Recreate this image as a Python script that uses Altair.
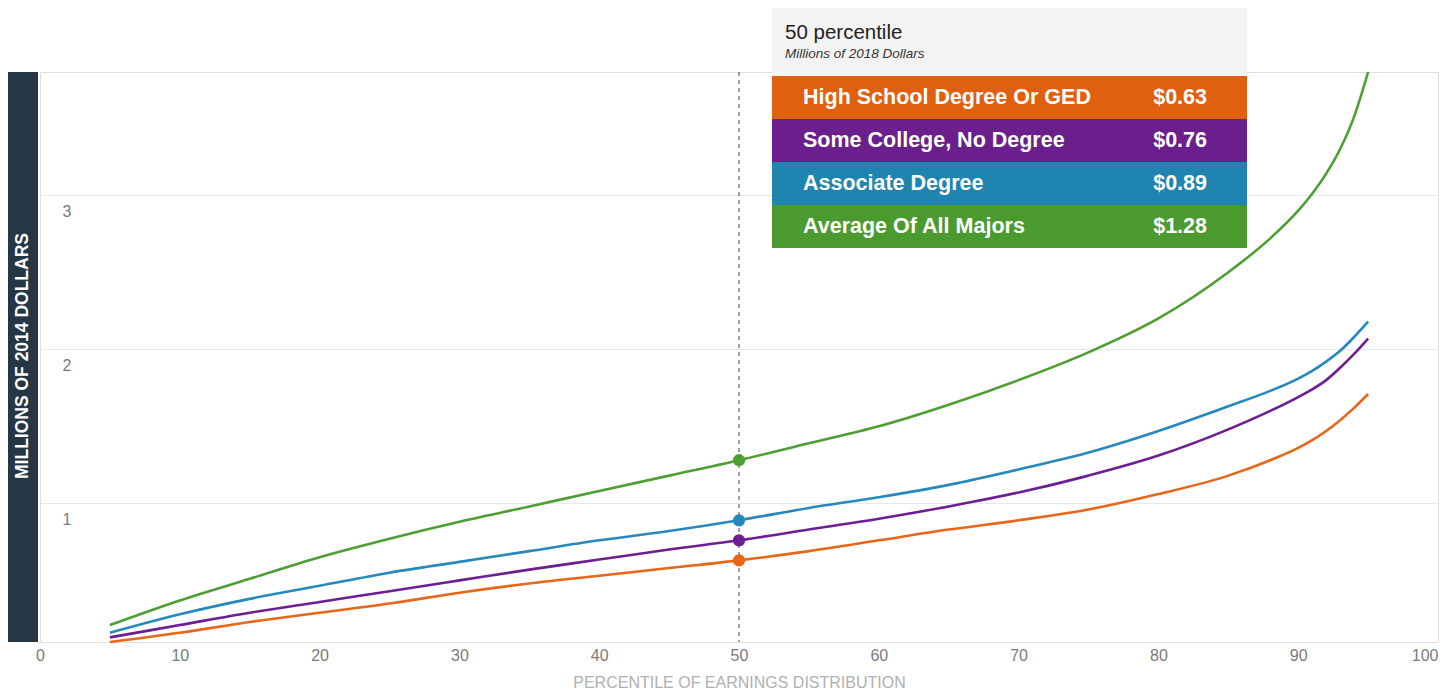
import altair as alt
import pandas as pd

# ---- data ----
percentiles = [5, 10, 15, 20, 25, 30, 35, 40, 45, 50, 55, 60, 65, 70, 75, 80, 85, 88, 90, 91, 92, 93, 94, 95]
high_school = [0.10, 0.16, 0.23, 0.29, 0.35, 0.42, 0.48, 0.53, 0.58, 0.63, 0.69, 0.76, 0.83, 0.89, 0.96, 1.06, 1.18, 1.28, 1.36, 1.41, 1.47, 1.54, 1.62, 1.71]
some_college = [0.13, 0.21, 0.29, 0.36, 0.43, 0.50, 0.57, 0.635, 0.70, 0.76, 0.83, 0.90, 0.98, 1.07, 1.18, 1.31, 1.48, 1.60, 1.69, 1.74, 1.80, 1.88, 1.97, 2.07]
associate = [0.16, 0.28, 0.38, 0.465, 0.55, 0.62, 0.69, 0.76, 0.82, 0.89, 0.97, 1.04, 1.12, 1.22, 1.33, 1.47, 1.63, 1.73, 1.81, 1.86, 1.92, 1.99, 2.08, 2.18]
all_majors = [0.21, 0.37, 0.51, 0.65, 0.77, 0.88, 0.98, 1.08, 1.18, 1.28, 1.39, 1.50, 1.64, 1.80, 1.98, 2.20, 2.50, 2.72, 2.90, 3.01, 3.14, 3.30, 3.51, 3.80]

series_names = ["High School Degree Or GED", "Some College, No Degree", "Associate Degree", "Average Of All Majors"]
line_colors = ["#E8661A", "#6C1E92", "#2688BC", "#4E9E33"]
box_colors = ["#E0600F", "#6A1F8C", "#1F84B0", "#4B9A30"]

highlight_percentile = 50
highlight_values = [0.63, 0.76, 0.89, 1.28]
highlight_labels = ["$0.63", "$0.76", "$0.89", "$1.28"]

x_ticks = [0, 10, 20, 30, 40, 50, 60, 70, 80, 90, 100]
y_ticks = [1, 2, 3]
y_title = "MILLIONS OF 2014 DOLLARS"
x_title = "PERCENTILE OF EARNINGS DISTRIBUTION"
tip_title = "50 percentile"
tip_subtitle = "Millions of 2018 Dollars"

# ---- tables ----
rows = []
for name, vals in zip(series_names, [high_school, some_college, associate, all_majors]):
    for p, v in zip(percentiles, vals):
        rows.append({"series": name, "percentile": p, "value": v})
lines_df = pd.DataFrame(rows)
dots_df = pd.DataFrame({"series": series_names, "percentile": [highlight_percentile] * 4, "value": highlight_values})

W, H = 1398, 570
ROW_H = 43
BOX_X0, BOX_X1 = 732, 1207
tip_df = pd.DataFrame({
    "series": series_names,
    "label": highlight_labels,
    "color": box_colors,
    "i": list(range(4)),
})

x_scale = alt.Scale(domain=[0, 100], nice=False, zero=False)
y_scale = alt.Scale(domain=[0.1, 3.8], nice=False, zero=False)
color_scale = alt.Scale(domain=series_names, range=line_colors)

x_enc = alt.X("percentile:Q", scale=x_scale, axis=alt.Axis(
    values=x_ticks, title=x_title, grid=False, ticks=False, domain=False,
    labelColor="#7a7a7a", labelFontSize=16, labelPadding=5,
    labelAlign=alt.ExprRef("datum.value == 100 ? 'right' : 'center'"),
    titleColor="#b0b0b0", titleFontSize=16, titleFontWeight="normal", titlePadding=11))
y_enc = alt.Y("value:Q", scale=y_scale, axis=alt.Axis(
    values=y_ticks, title=None, grid=True, gridColor="#e8e8e8", ticks=False, domain=False,
    format="d",
    labelAlign="left", labelPadding=-22, labelBaseline="middle", labelOffset=16,
    labelColor="#7a7a7a", labelFontSize=16))

lines = alt.Chart(lines_df).mark_line(interpolate="monotone", strokeWidth=2.6).encode(
    x=x_enc, y=y_enc,
    color=alt.Color("series:N", scale=color_scale, legend=None),
    detail="series:N",
)

rule = alt.Chart(pd.DataFrame({"percentile": [highlight_percentile]})).mark_rule(
    color="#6f6f6f", strokeDash=[4, 4], strokeWidth=1.3).encode(x=alt.X("percentile:Q", scale=x_scale))

dots = alt.Chart(dots_df).mark_circle(size=150, opacity=1).encode(
    x=alt.X("percentile:Q", scale=x_scale),
    y=alt.Y("value:Q", scale=y_scale),
    color=alt.Color("series:N", scale=color_scale, legend=None),
)

# dark y-title bar
ybar = alt.Chart(pd.DataFrame({"t": [y_title]})).mark_rect(color="#253645").encode(
    x=alt.value(-32), x2=alt.value(-2), y=alt.value(0), y2=alt.value(H))
ytext = alt.Chart(pd.DataFrame({"t": [y_title]})).mark_text(
    angle=270, color="white", fontSize=17.5, fontWeight="bold", align="center", baseline="middle").encode(
    x=alt.value(-17), y=alt.value(284), text="t:N")

# tooltip box
header = alt.Chart(pd.DataFrame({"t": [tip_title]})).mark_rect(color="#f3f3f3").encode(
    x=alt.value(BOX_X0), x2=alt.value(BOX_X1), y=alt.value(-64), y2=alt.value(4))
head_t1 = alt.Chart(pd.DataFrame({"t": [tip_title]})).mark_text(
    align="left", baseline="middle", fontSize=20.5, color="#222222").encode(
    x=alt.value(BOX_X0 + 13), y=alt.value(-39), text="t:N")
head_t2 = alt.Chart(pd.DataFrame({"t": [tip_subtitle]})).mark_text(
    align="left", baseline="middle", fontSize=13.5, fontStyle="italic", color="#333333").encode(
    x=alt.value(BOX_X0 + 13), y=alt.value(-18), text="t:N")

tip_base = alt.Chart(tip_df).transform_calculate(
    y0=f"4 + {ROW_H} * datum.i",
    y1=f"4 + {ROW_H} * (datum.i + 1)",
    ym=f"4 + {ROW_H} * (datum.i + 0.5)",
    x0=f"{BOX_X0}", x1=f"{BOX_X1}",
    xl=f"{BOX_X0 + 31}", xr=f"{BOX_X1 - 40}",
)
tip_rects = tip_base.mark_rect().encode(
    x=alt.X("x0:Q", scale=None, axis=None), x2="x1:Q",
    y=alt.Y("y0:Q", scale=None, axis=None), y2="y1:Q",
    color=alt.Color("color:N", scale=None, legend=None),
)
tip_names = tip_base.mark_text(align="left", baseline="middle", fontSize=21.5, fontWeight="bold", color="white").encode(
    x=alt.X("xl:Q", scale=None, axis=None), y=alt.Y("ym:Q", scale=None, axis=None), text="series:N")
tip_vals = tip_base.mark_text(align="right", baseline="middle", fontSize=21.5, fontWeight="bold", color="white").encode(
    x=alt.X("xr:Q", scale=None, axis=None), y=alt.Y("ym:Q", scale=None, axis=None), text="label:N")

chart = alt.layer(
    lines, rule, dots, ybar, ytext, header, head_t1, head_t2, tip_rects, tip_names, tip_vals
).properties(
    width=W, height=H,
    autosize=alt.AutoSizeParams(type="none"),
    padding={"left": 32, "top": 64, "right": 4, "bottom": 50},
).configure_view(
    stroke="#969696", strokeWidth=2,
).configure(
    font="Liberation Sans", background="white",
)

chart.save("out.html", embed_options={"renderer": "svg", "actions": False})
